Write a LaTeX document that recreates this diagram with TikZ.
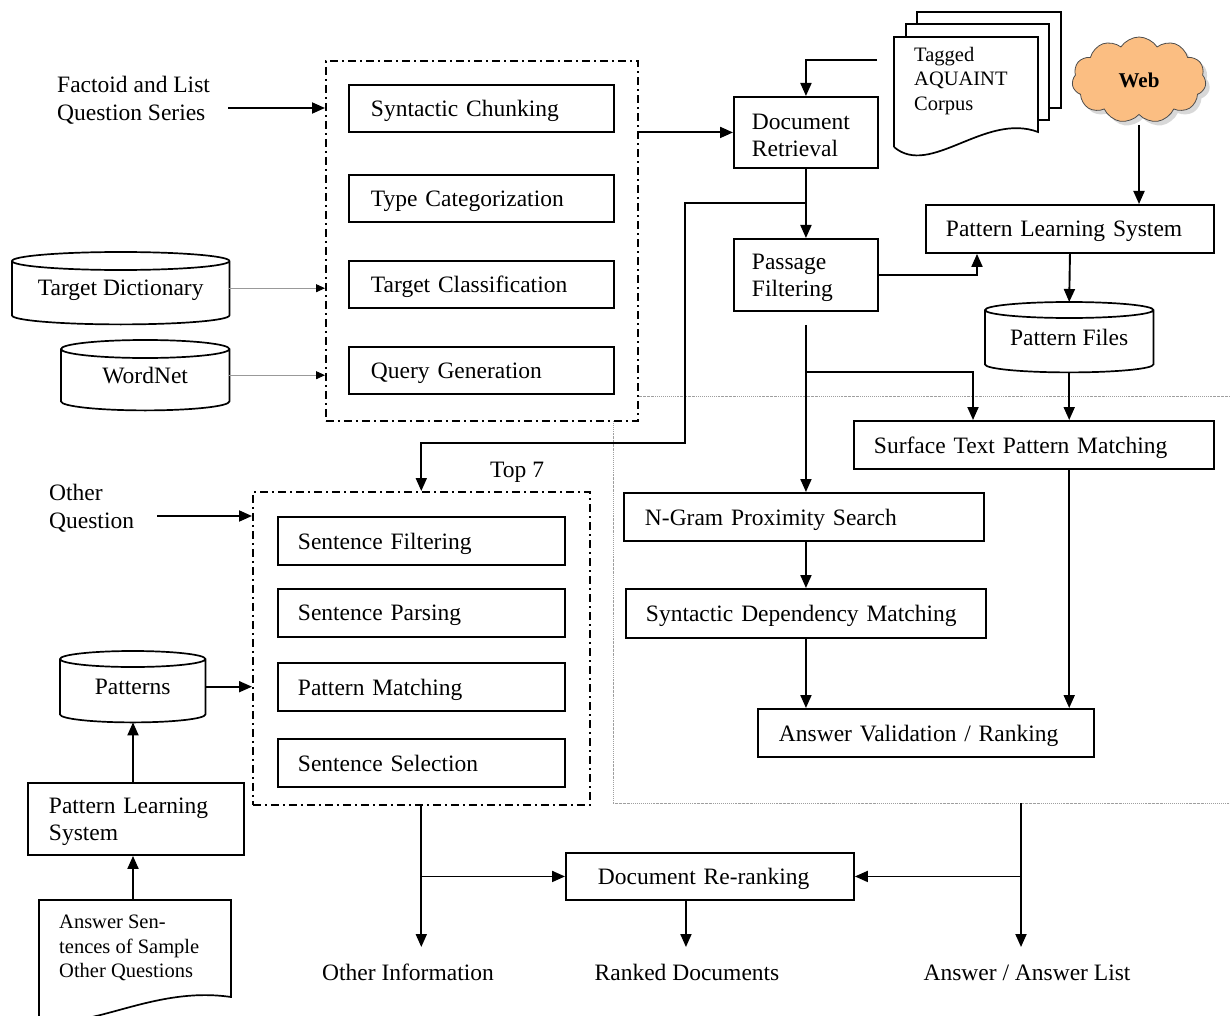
\documentclass[tikz,border=0pt]{standalone}
\usepackage{fontspec}
\setmainfont{Liberation Serif}
\usetikzlibrary{arrows.meta,shapes.symbols,shadows,calc}
\newcommand\cylout[2]{%
 \draw[line width=1.7pt] let \p1=(#1.north west), \p2=(#1.south east), \n1={(\x2-\x1)/2} in
  (\x1,\y1-#2) -- (\x1,\y2+#2) arc[start angle=180,end angle=360,x radius=\n1,y radius=#2]
  -- (\x2,\y1-#2) arc[start angle=0,end angle=180,x radius=\n1,y radius=#2] -- cycle
  (\x1,\y1-#2) arc[start angle=180,end angle=360,x radius=\n1,y radius=#2];}
\newcommand\topstrut{\rule{0pt}{21pt}}
\begin{document}
\begin{tikzpicture}[x=1pt,y=-1pt,
  font=\fontsize{23.5}{27.5}\selectfont,
  bxbase/.style={draw, line width=1.9pt, inner ysep=0pt, align=left, anchor=north west},
  bx/.style={bxbase, text depth=0pt},
  bxtwo/.style={bxbase},
  grp/.style={draw, line width=1.6pt, dash pattern=on 8pt off 4pt on 2pt off 4pt, fill=white, anchor=north west, inner sep=0pt},
  arr/.style={line width=1.9pt, -{Triangle[length=13pt,width=11pt]}},
  thinarr/.style={line width=0.9pt, draw=gray!80, -{Triangle[length=9pt,width=8pt,color=black]}},
  lbl/.style={align=left, inner sep=0pt},
  small/.style={font=\fontsize{20.5}{24.5}\selectfont},
  cyl/.style={inner sep=0pt, text depth=0pt, anchor=north west},
  dotline/.style={draw=gray!75, line width=0.9pt, dash pattern=on 1.5pt off 1pt on 0.6pt off 1pt}
]
\useasboundingbox (0,0) rectangle (1230,1016);

% dotted region
\draw[dotline] (1232,396) -- (613,396) -- (613,803) -- (1232,803);

% group boxes
\node[grp, minimum width=312pt, minimum height=360pt] (ga) at (325,60) {};
\node[grp, minimum width=337pt, minimum height=313pt] (gb) at (252,491) {};

% left top texts
\node[lbl, anchor=north west] (fq) at (57,76) {Factoid and List\\Question Series};
\node[lbl, anchor=north west] (oq) at (49,484) {Other\\Question};
\node[lbl, anchor=base west] (top7) at (490,477) {Top 7};

% boxes group A
\node[bx, inner xsep=22pt, minimum width=265pt, minimum height=47pt, text width=221pt] (sc) at (348,84) {Syntactic Chunking};
\node[bx, inner xsep=22pt, minimum width=265pt, minimum height=47pt, text width=221pt] (tcat) at (348,174) {Type Categorization};
\node[bx, inner xsep=22pt, minimum width=265pt, minimum height=47pt, text width=221pt] (tcl) at (348,260) {Target Classification};
\node[bx, inner xsep=22pt, minimum width=265pt, minimum height=47pt, text width=221pt] (qg) at (348,346) {Query Generation};

% boxes group B
\node[bx, inner xsep=20pt, minimum width=287pt, minimum height=48pt, text width=247pt] (sf) at (277,516) {Sentence Filtering};
\node[bx, inner xsep=20pt, minimum width=287pt, minimum height=48pt, text width=247pt] (sp) at (277,588) {Sentence Parsing};
\node[bx, inner xsep=20pt, minimum width=287pt, minimum height=48pt, text width=247pt] (pm) at (277,662) {Pattern Matching};
\node[bx, inner xsep=20pt, minimum width=287pt, minimum height=48pt, text width=247pt] (ss) at (277,738) {Sentence Selection};

% right boxes
\node[bxtwo, inner xsep=18pt, minimum width=144pt, minimum height=71pt, text width=108pt] (dr) at (733,96) {\topstrut Document\\Retrieval};
\node[bxtwo, inner xsep=18pt, minimum width=144pt, minimum height=72pt, text width=108pt] (pf) at (733,238) {\topstrut Passage\\Filtering};
\node[bx, inner xsep=20pt, minimum width=288pt, minimum height=48pt, text width=248pt] (plsr) at (925,204) {Pattern Learning System};
\node[bx, inner xsep=20pt, minimum width=360pt, minimum height=48pt, text width=320pt] (stpm) at (853,420) {Surface Text Pattern Matching};
\node[bx, inner xsep=21pt, minimum width=360pt, minimum height=48pt, text width=318pt] (ng) at (623,492) {N-Gram Proximity Search};
\node[bx, inner xsep=20pt, minimum width=360pt, minimum height=49pt, text width=320pt] (sdm) at (625,588) {Syntactic Dependency Matching};
\node[bx, inner xsep=21pt, minimum width=336pt, minimum height=48pt, text width=294pt] (av) at (757,708) {Answer Validation / Ranking};
\node[bx, inner xsep=32pt, minimum width=288pt, minimum height=47pt, text width=224pt] (drr) at (565,852) {Document Re-ranking};
\node[bxtwo, inner xsep=21pt, minimum width=216pt, minimum height=72pt, text width=174pt] (plsl) at (27,782) {\topstrut Pattern Learning\\System};

% cylinders
\node[cyl, minimum width=217pt, minimum height=72pt] (td) at (12,252) {Target Dictionary};
\cylout{td}{9pt}
\node[cyl, minimum width=168pt, minimum height=70pt] (wn) at (61,340) {WordNet};
\cylout{wn}{9pt}
\node[cyl, minimum width=168pt, minimum height=70pt] (pfiles) at (985,302) {Pattern Files};
\cylout{pfiles}{8pt}
\node[cyl, minimum width=145pt, minimum height=71pt] (pat) at (60,651) {Patterns};
\cylout{pat}{8pt}

% corpus multi-document
\draw[line width=1.7pt, fill=white] (917,12) rectangle (1061,108);
\draw[line width=1.7pt, fill=white] (906,24) rectangle (1049,120);
\draw[line width=1.7pt, fill=white] (894,147) -- (894,37) -- (1038,37) -- (1038,132)
  .. controls (985,112) and (930,178) .. (894,147);
\node[lbl, small, anchor=north west] (corpus) at (914,47) {Tagged\\AQUAINT\\Corpus};

% answer sentences document
\draw[line width=1.7pt, fill=white] (39,1030) -- (39,900) -- (231,900) -- (231,997)
  .. controls (150,985) and (85,1035) .. (39,1017);
\node[lbl, small, anchor=north west] (asd) at (59,915) {Answer Sen-\\tences of Sample\\Other Questions};

% web cloud
\node[cloud, cloud puffs=11, cloud puff arc=115, aspect=1.6, draw=black!70, line width=0.8pt,
  fill={rgb,255:red,251;green,190;blue,130}, minimum width=134pt, minimum height=86pt,
  drop shadow={shadow xshift=4pt, shadow yshift=-4pt, fill=gray!60},
  inner sep=0pt, font=\fontsize{21}{24}\selectfont\bfseries] (web) at (1139,80) {Web};

% output labels
\node[inner sep=0pt, anchor=base] (oi) at (408,980) {Other Information};
\node[inner sep=0pt, anchor=base] (rd) at (687,980) {Ranked Documents};
\node[inner sep=0pt, anchor=base] (aal) at (1027,980) {Answer / Answer List};

% coordinates
\coordinate (fqo) at (228,108);
\coordinate (oqo) at (157,516);
\coordinate (cin) at (877,60);
\coordinate (t7) at (805,203);
\coordinate (t7a) at (685,203);
\coordinate (t7b) at (685,443);
\coordinate (br1) at (805,372);
\coordinate (asdtop) at (133,900);
\coordinate (yout) at (0,947);
\coordinate (ansTop) at (1021,803);

% connectors
\draw[arr] (fqo) -- (fqo -| ga.west);
\draw[thinarr] (td.east) -- (td.east -| ga.west);
\draw[thinarr] (wn.east) -- (wn.east -| ga.west);
\draw[arr] (dr.west -| ga.east) -- (dr.west);
\draw[arr] (cin) -| (dr.north);
\draw[arr] (dr.south) -- (pf.north);
\draw[arr] (pf.east) -| ([xshift=52pt]plsr.south west);
\draw[arr] ([yshift=-10pt]web.south) -- (web.south |- plsr.north);
\draw[arr] (plsr.south) -- (pfiles.north);
\draw[arr] (pfiles.south) -- (pfiles.south |- stpm.north);
\draw[arr] (pfiles.south |- stpm.south) -- (pfiles.south |- av.north);
\draw[arr] ([yshift=-13pt]pf.south) -- (pf.south |- ng.north);
\draw[arr] (br1) -| ([xshift=120pt]stpm.north west);
\draw[arr] (pf.south |- ng.south) -- (pf.south |- sdm.north);
\draw[arr] (pf.south |- sdm.south) -- (pf.south |- av.north);
\draw[arr] (t7) -- (t7a) -- (t7b) -| (gb.north);
\draw[arr] (oqo) -- (oqo -| gb.west);
\draw[arr] (pat.east) -- (pat.east -| gb.west);
\draw[arr] (plsl.north -| asdtop) -- (pat.south -| asdtop);
\draw[arr] (asdtop) -- (asdtop |- plsl.south);
\draw[arr] (gb.south) -- (gb.south |- yout);
\draw[arr] (gb.south |- drr.west) -- (drr.west);
\draw[arr] ([xshift=-24pt]drr.south) -- ([xshift=-24pt]drr.south |- yout);
\draw[arr] (ansTop) -- (ansTop |- yout);
\draw[arr] (ansTop |- drr.east) -- (drr.east);
\end{tikzpicture}
\end{document}
